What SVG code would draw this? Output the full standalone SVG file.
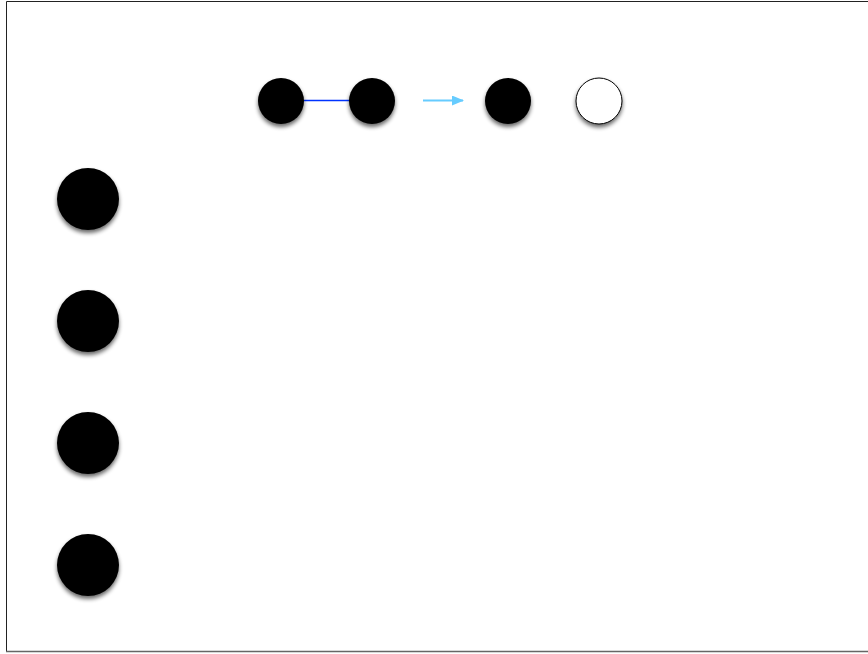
<svg xmlns="http://www.w3.org/2000/svg" width="868" height="654" viewBox="0 0 868 654">
<defs>
<filter id="sh" x="-30%" y="-30%" width="160%" height="170%">
<feGaussianBlur in="SourceAlpha" stdDeviation="2"/>
<feOffset dy="3" result="b"/>
<feComponentTransfer><feFuncA type="linear" slope="0.6"/></feComponentTransfer>
<feMerge><feMergeNode/><feMergeNode in="SourceGraphic"/></feMerge>
</filter>
<marker id="ah" markerWidth="12" markerHeight="10" refX="11" refY="5" orient="auto" markerUnits="userSpaceOnUse">
<path d="M0,0 L12,5 L0,10 Z" fill="#66ccff"/>
</marker>
<style>
.n{fill:#000;filter:url(#sh)}
.w{fill:#fff;stroke:#000;stroke-width:1;filter:url(#sh)}
</style>
</defs>
<rect x="0" y="0" width="868" height="654" fill="#fff"/>
<path d="M6.5,652 V1.5 H868" fill="none" stroke="#222" stroke-width="1"/>
<path d="M6,651.5 H868" fill="none" stroke="#666" stroke-width="1.5"/>
<g id="connectors">
<line x1="304" y1="100.5" x2="350" y2="100.5" stroke="#0033ff" stroke-width="1.5"/>
<line x1="423" y1="100.5" x2="463" y2="100.5" stroke="#66ccff" stroke-width="2" marker-end="url(#ah)"/>
</g>
<g id="n1"><circle class="n" cx="281" cy="101" r="23"/></g>
<g id="n2"><circle class="n" cx="372" cy="101" r="23"/></g>
<g id="n3"><circle class="n" cx="508" cy="101" r="23"/></g>
<g id="n4"><circle class="w" cx="599" cy="101" r="23"/></g>
<g id="n5"><circle class="n" cx="88" cy="199" r="31"/></g>
<g id="n6"><circle class="n" cx="88" cy="321" r="31"/></g>
<g id="n7"><circle class="n" cx="88" cy="443" r="31"/></g>
<g id="n8"><circle class="n" cx="88" cy="565" r="31"/></g>
</svg>
